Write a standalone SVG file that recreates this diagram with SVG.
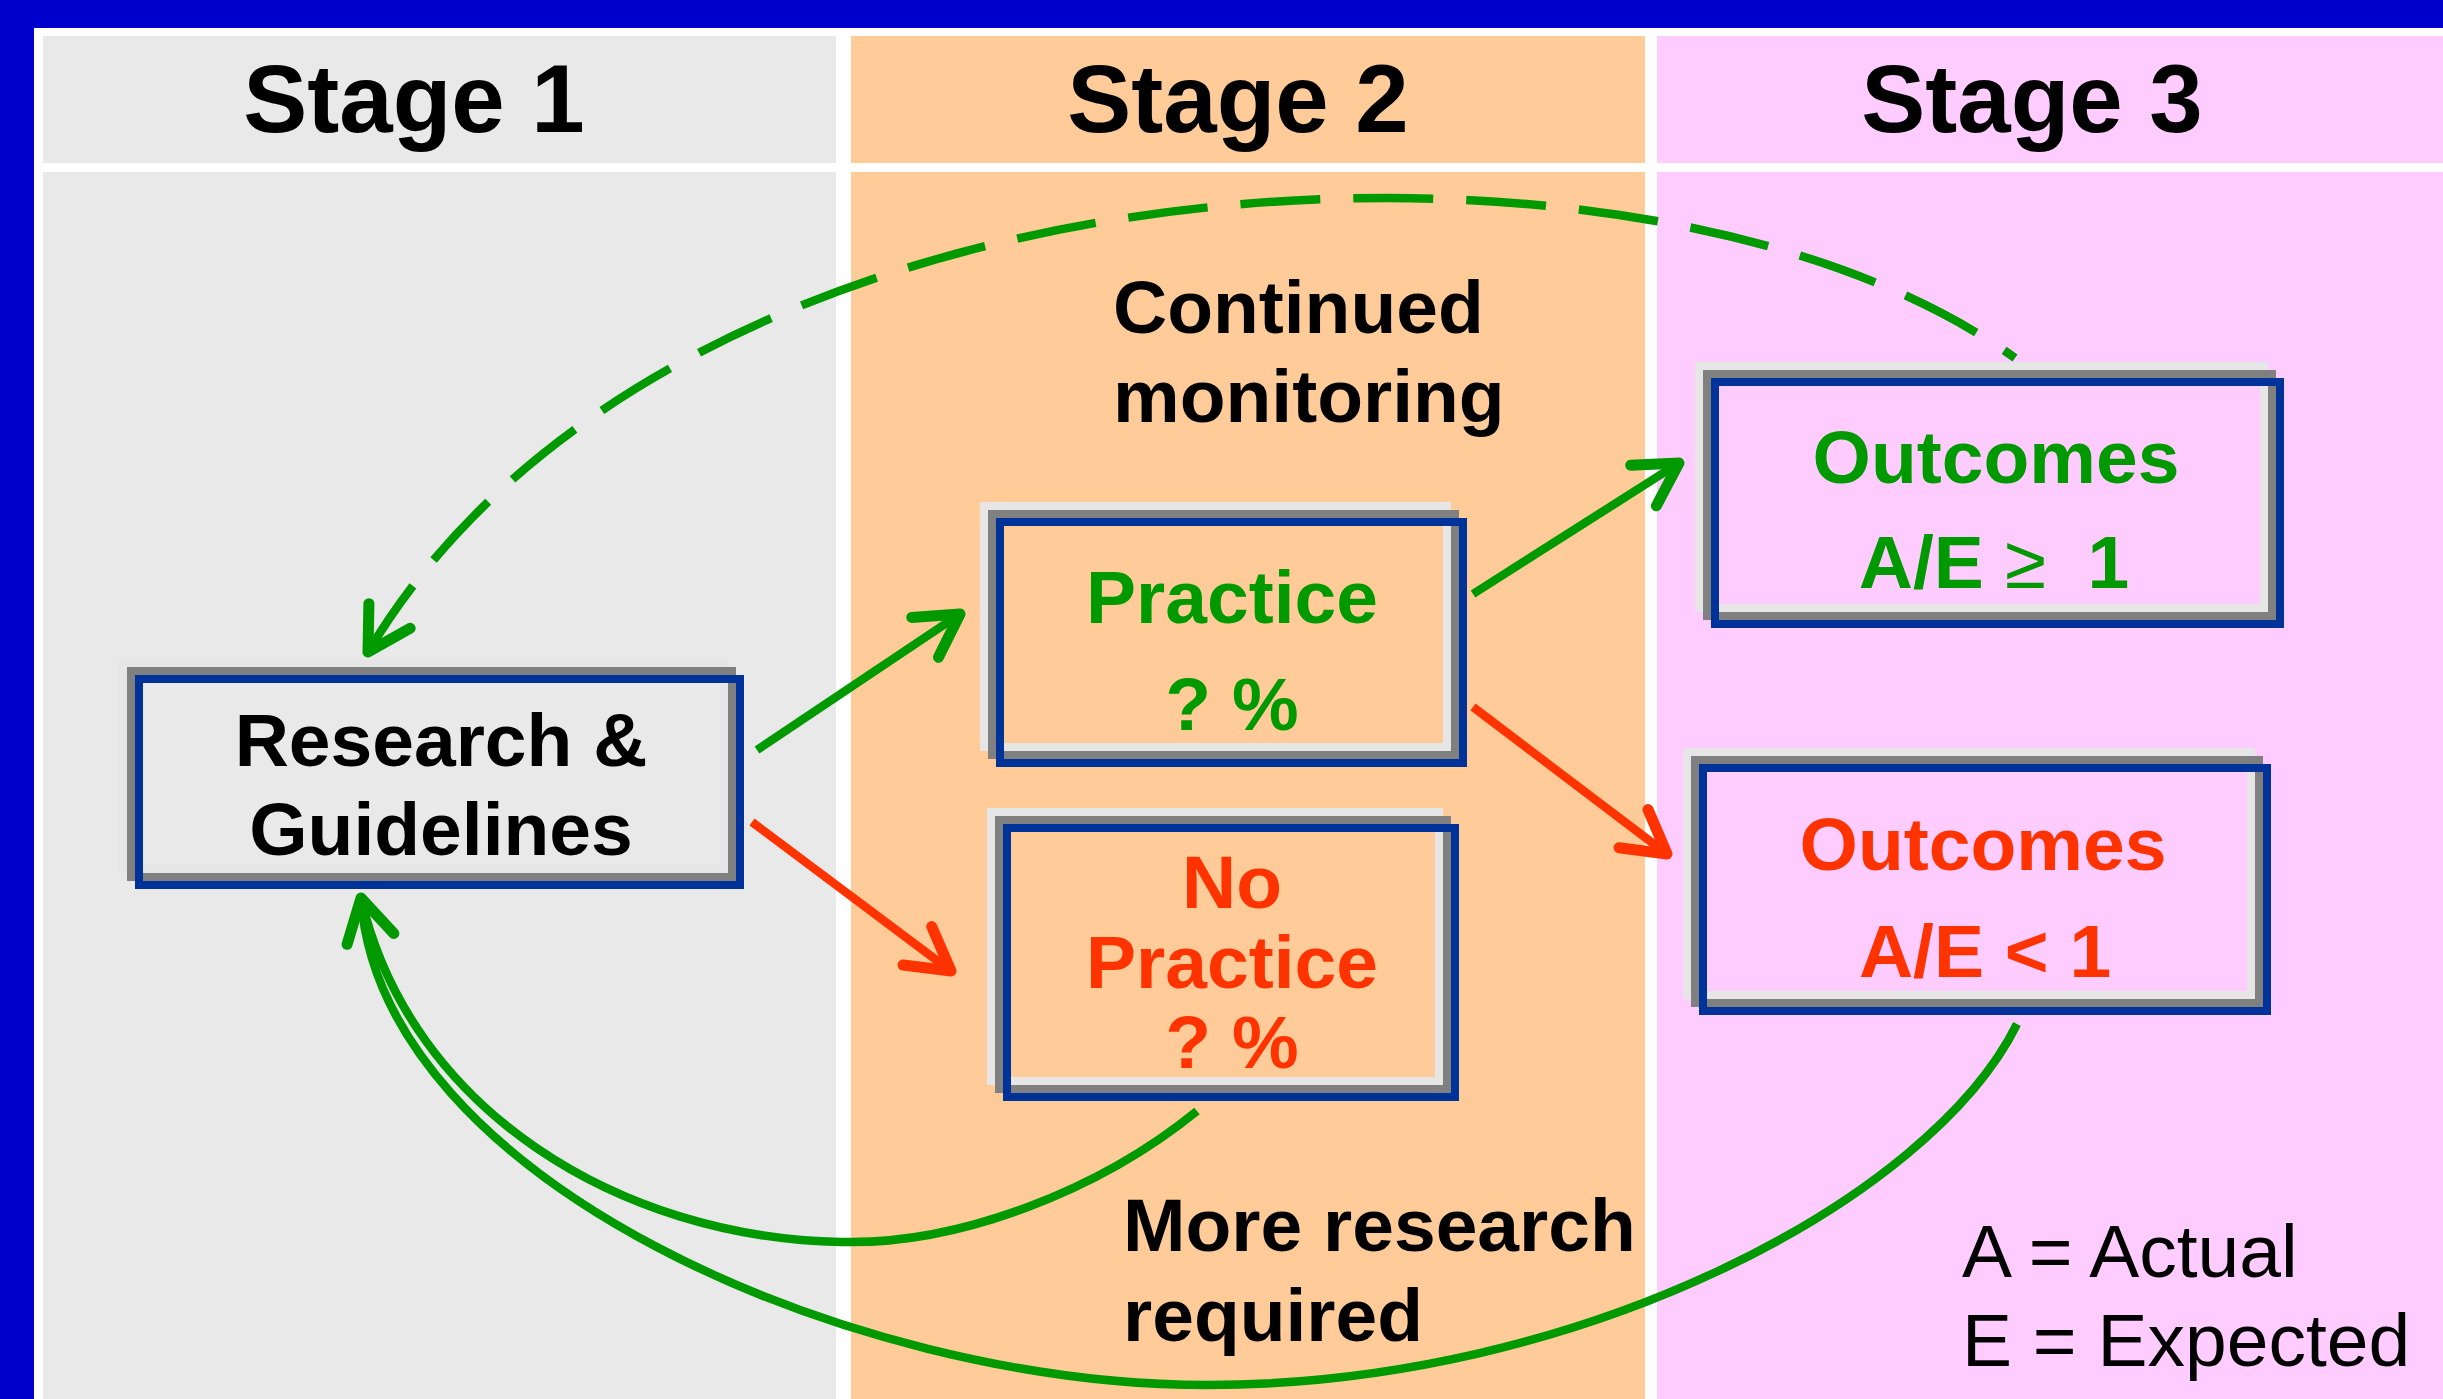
<svg xmlns="http://www.w3.org/2000/svg" width="2443" height="1399" viewBox="0 0 2443 1399">
<style>
.hdr{font-family:"Liberation Sans",Arial,sans-serif;font-weight:bold;font-size:96px;text-anchor:middle;fill:#000}
.lbl{font-family:"Liberation Sans",Arial,sans-serif;font-weight:bold;font-size:75px;text-anchor:middle}
.note{font-family:"Liberation Sans",Arial,sans-serif;font-weight:bold;font-size:75px;fill:#000}
.leg{font-family:"Liberation Sans",Arial,sans-serif;font-size:75px;fill:#000}
.b1{fill:none;stroke:#e6e6e6;stroke-width:8}
.b2{fill:none;stroke:#808080;stroke-width:8}
.b3{fill:none;stroke:#003399;stroke-width:8}
.g{fill:#009900}
.r{fill:#ff3300}
.cg{fill:none;stroke:#009900;stroke-width:8.5}
.cr{fill:none;stroke:#ff3300;stroke-width:8.5}
</style>
<defs>
<marker id="ahG" markerUnits="userSpaceOnUse" markerWidth="120" markerHeight="120" viewBox="-60 -60 120 120" refX="0" refY="0" orient="auto-start-reverse">
<path d="M-42,-24 L0,0 L-42,24" fill="none" stroke="#009900" stroke-width="11" stroke-linecap="round" stroke-linejoin="round"/>
</marker>
<marker id="ahR" markerUnits="userSpaceOnUse" markerWidth="120" markerHeight="120" viewBox="-60 -60 120 120" refX="0" refY="0" orient="auto-start-reverse">
<path d="M-42,-24 L0,0 L-42,24" fill="none" stroke="#ff3300" stroke-width="11" stroke-linecap="round" stroke-linejoin="round"/>
</marker>
</defs>
<g id="background">
<rect x="0" y="0" width="2443" height="1399" fill="#0000cc"/>
<rect x="34" y="28" width="2409" height="1371" fill="#ffffff"/>
<rect x="43" y="36" width="793" height="127" fill="#e9e9e9"/>
<rect x="851" y="36" width="794" height="127" fill="#ffcc99"/>
<rect x="1657" y="36" width="786" height="127" fill="#ffccff"/>
<rect x="43" y="172" width="793" height="1227" fill="#e9e9e9"/>
<rect x="851" y="172" width="794" height="1227" fill="#ffcc99"/>
<rect x="1657" y="172" width="786" height="1227" fill="#ffccff"/>
<text class="hdr" x="414" y="132">Stage 1</text>
<text class="hdr" x="1238" y="132">Stage 2</text>
<text class="hdr" x="2032" y="132">Stage 3</text>
</g>
<g id="connectors">
<path class="cg" stroke-dasharray="80 33" marker-start="url(#ahG)" d="M368,652 C560,330 1000,198 1387,198 C1600,198 1850,240 2015,358"/>
<path class="cg" marker-end="url(#ahG)" d="M1197,1111 C1100,1190 960,1245 841,1242 C620,1238 410,1110 361,898"/>
<path class="cg" d="M2017,1024 C1930,1200 1580,1385 1207,1385 C850,1385 380,1180 361,898"/>
<path class="cg" marker-end="url(#ahG)" d="M757,750 L960,614"/>
<path class="cr" marker-end="url(#ahR)" d="M752,822 L951,971"/>
<path class="cg" marker-end="url(#ahG)" d="M1473,594 L1679,463"/>
<path class="cr" marker-end="url(#ahR)" d="M1473,707 L1667,854"/>
</g>
<g id="research">
<rect class="b1" x="123" y="663" width="601" height="206"/>
<rect class="b2" x="131" y="671" width="601" height="206"/>
<rect class="b3" x="139" y="679" width="601" height="206"/>
<text class="lbl" x="441" y="766" fill="#000">Research &amp;</text>
<text class="lbl" x="441" y="855" fill="#000">Guidelines</text>
</g>
<g id="practice">
<rect class="b1" x="984" y="506" width="463" height="241"/>
<rect class="b2" x="992" y="514" width="463" height="241"/>
<rect class="b3" x="1000" y="522" width="463" height="241"/>
<text class="lbl g" x="1232" y="623">Practice</text>
<text class="lbl g" x="1232" y="730">? %</text>
</g>
<g id="no-practice">
<rect class="b1" x="991" y="812" width="448" height="269"/>
<rect class="b2" x="999" y="820" width="448" height="269"/>
<rect class="b3" x="1007" y="828" width="448" height="269"/>
<text class="lbl r" x="1232" y="908">No</text>
<text class="lbl r" x="1232" y="988">Practice</text>
<text class="lbl r" x="1232" y="1068">? %</text>
</g>
<g id="outcomes-good">
<rect class="b1" x="1699" y="366" width="565" height="242"/>
<rect class="b2" x="1707" y="374" width="565" height="242"/>
<rect class="b3" x="1715" y="382" width="565" height="242"/>
<text class="lbl g" x="1996" y="483">Outcomes</text>
<text class="lbl g" x="1994" y="588">A/E <tspan font-weight="normal">≥</tspan>&#160; 1</text>
</g>
<g id="outcomes-bad">
<rect class="b1" x="1687" y="752" width="564" height="243"/>
<rect class="b2" x="1695" y="760" width="564" height="243"/>
<rect class="b3" x="1703" y="768" width="564" height="243"/>
<text class="lbl r" x="1983" y="870">Outcomes</text>
<text class="lbl r" x="1985" y="977">A/E &lt; 1</text>
</g>
<g id="labels">
<text class="note" x="1113" y="333">Continued</text>
<text class="note" x="1113" y="422">monitoring</text>
<text class="note" x="1123" y="1251">More research</text>
<text class="note" x="1123" y="1341">required</text>
<text class="leg" x="1962" y="1277">A = Actual</text>
<text class="leg" x="1962" y="1366">E = Expected</text>
</g>
</svg>
